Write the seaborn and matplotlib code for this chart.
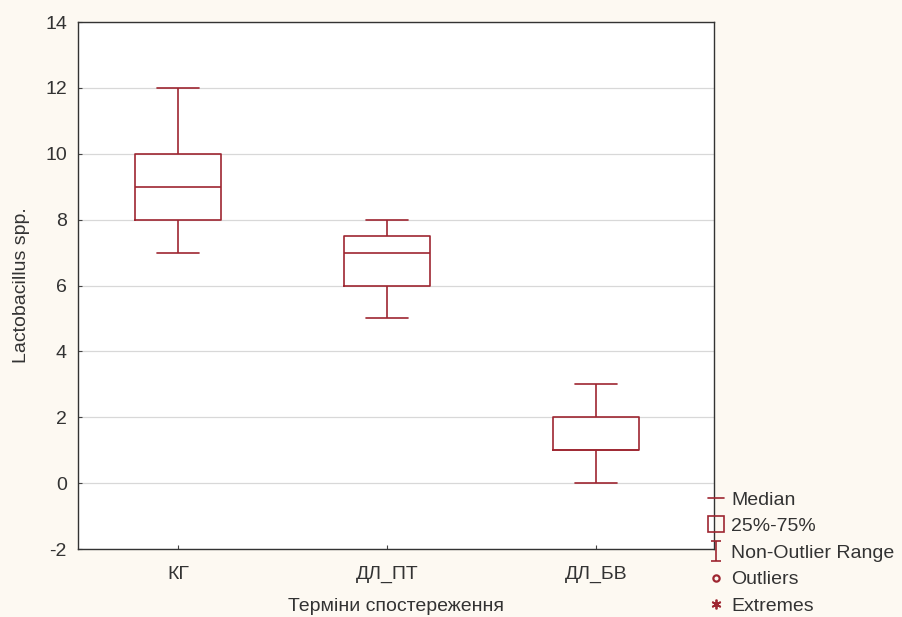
import pandas as pd
import numpy as np
import matplotlib.pyplot as plt
from matplotlib.lines import Line2D
from matplotlib.path import Path
import seaborn as sns

# five-number summaries
TERMS = ["КГ", "ДЛ_ПТ", "ДЛ_БВ"]
MINS = [7, 5, 0]
Q1S = [8, 6, 1]
MEDIANS = [9, 7, 1]
Q3S = [10, 7.5, 2]
MAXS = [12, 8, 3]
Y_TICKS = [-2, 0, 2, 4, 6, 8, 10, 12, 14]

RED = "#9e2631"
TEXT = "#333333"
BG = "#fdf9f2"
FS = 14

rows = []
for t, a, b, c, d, e in zip(TERMS, MINS, Q1S, MEDIANS, Q3S, MAXS):
    for v in (a, b, c, d, e):
        rows.append({"term": t, "value": v})
df = pd.DataFrame(rows)

sns.set_theme(style="white")
plt.rcParams["font.family"] = ["Liberation Sans", "DejaVu Sans"]
plt.rcParams["axes.unicode_minus"] = False

fig = plt.figure(figsize=(9.02, 6.17), dpi=100, facecolor=BG)
ax = fig.add_axes([0.0865, 0.1102, 0.7051, 0.8541])
ax.set_facecolor("white")

for y in Y_TICKS:
    ax.axhline(y, color="#d8d8d8", linewidth=0.9, zorder=0)

sns.boxplot(data=df, x="term", y="value", order=TERMS, whis=(0, 100),
            width=0.41, fill=False, color=RED, linecolor=RED, linewidth=1.2,
            capwidths=0.2, ax=ax)

ax.set_xlim(-0.48, 2.565)
ax.set_ylim(-2, 14)
ax.set_yticks(Y_TICKS)
ax.tick_params(axis="both", direction="in", length=3, width=0.8,
               colors="#444444", labelcolor=TEXT, labelsize=FS)
ax.tick_params(axis="y", left=True, pad=8)
ax.tick_params(axis="x", bottom=True, pad=12)
for s in ax.spines.values():
    s.set_color("#333333")
    s.set_linewidth(1.0)
    s.set_visible(True)

ax.set_xlabel("Терміни спостереження", fontsize=FS, color=TEXT, labelpad=11)
ax.set_ylabel("Lactobacillus spp.", fontsize=FS, color=TEXT, labelpad=11)

range_marker = Path([(-0.5, 1), (0.5, 1), (0, 1), (0, -1), (-0.5, -1), (0.5, -1)],
                    [Path.MOVETO, Path.LINETO, Path.MOVETO, Path.LINETO, Path.MOVETO, Path.LINETO])
handles = [
    Line2D([], [], color=RED, linewidth=1.2),
    Line2D([], [], color=RED, linestyle="none", marker="s", markersize=12,
           markerfacecolor="none", markeredgecolor=RED, markeredgewidth=1.2),
    Line2D([], [], color=RED, linestyle="none", marker=range_marker, markersize=14,
           markerfacecolor="none", markeredgecolor=RED, markeredgewidth=1.2),
    Line2D([], [], color=RED, linestyle="none", marker="o", markersize=4.5,
           markerfacecolor="none", markeredgecolor=RED, markeredgewidth=1.6),
    Line2D([], [], color=RED, linestyle="none", marker=(6, 2, 0), markersize=7,
           markeredgecolor=RED, markeredgewidth=1.3),
]
labels = ["Median", "25%-75%", "Non-Outlier Range", "Outliers", "Extremes"]
leg = fig.legend(handles, labels, loc="upper left", bbox_to_anchor=(0.785, 0.204),
                 frameon=False, handlelength=0.8, handletextpad=0.4,
                 labelspacing=0.46, borderpad=0, borderaxespad=0, fontsize=FS)
for t in leg.get_texts():
    t.set_color(TEXT)

plt.savefig("out.png", dpi=100, facecolor=BG)
plt.close()
